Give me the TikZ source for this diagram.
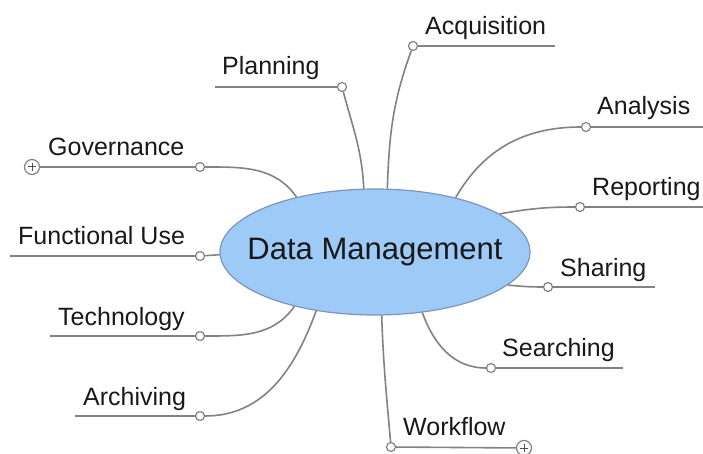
\documentclass[tikz,border=0pt]{standalone}
\usepackage{fontspec}
\setmainfont{Liberation Sans}
\usetikzlibrary{shapes.geometric, positioning}

\definecolor{hubfill}{RGB}{158,202,248}
\definecolor{hubline}{RGB}{125,150,180}
\definecolor{branchgray}{RGB}{130,130,130}
\definecolor{labelink}{RGB}{25,25,25}

\tikzset{
	hub/.style = {ellipse, draw = hubline, fill = hubfill, line width = 1.2pt, minimum width = 310pt, minimum height = 126pt, inner sep = 0pt},
	hubtext/.style = {text = labelink, font = \fontsize{31}{37}\selectfont, inner sep = 0pt},
	knob/.style = {circle, draw = branchgray, fill = white, line width = 1.2pt, minimum size = 9pt, inner sep = 0pt},
	plusknob/.style = {knob, minimum size = 15pt, path picture = {
		\draw [branchgray!60!black, line width = 1pt]
			([xshift = -4pt] path picture bounding box.center) -- ([xshift = 4pt] path picture bounding box.center)
			([yshift = -4pt] path picture bounding box.center) -- ([yshift = 4pt] path picture bounding box.center) ;
	}},
	branch/.style = {draw = branchgray, line width = 1.6pt},
	topic/.style = {text = labelink, font = \fontsize{25}{30}\selectfont, inner sep = 0pt, anchor = base west},
}

\begin{document}
\begin{tikzpicture}[x = 1pt, y = 1pt]
		\useasboundingbox (0, 0) rectangle (703, 453) ;
		% Hub
		\node [hub] (dm) at (375, 201) {} ;
		\node [hubtext] (dmtext) at (dm.center) {Data Management} ;
		% Knobs
		\node [knob] (gov) at (200, 286) {} ;
		\node [knob] (fun) at (200, 197) {} ;
		\node [knob] (tech) at (200, 117) {} ;
		\node [knob] (arch) at (200, 37) {} ;
		\node [knob] (plan) at (342, 366) {} ;
		\node [knob] (acq) at (413, 407) {} ;
		\node [knob] (ana) at (586, 326) {} ;
		\node [knob] (rep) at (580, 246) {} ;
		\node [knob] (sha) at (548, 166) {} ;
		\node [knob] (sea) at (491, 85) {} ;
		\node [knob] (wor) at (391, 6) {} ;
		% Far ends of the underlines
		\node [plusknob] (govplus) at (32, 286) {} ;
		\coordinate (funend) at (10, 197) ;
		\coordinate (techend) at (50, 117) ;
		\coordinate (archend) at (75, 37) ;
		\coordinate (planend) at (215, 366) ;
		\coordinate (acqend) at (555, 407) ;
		\coordinate (anaend) at (703, 326) ;
		\coordinate (repend) at (703, 246) ;
		\coordinate (shaend) at (655, 166) ;
		\coordinate (seaend) at (623, 85) ;
		\node [plusknob] (worplus) at (524, 5) {} ;
		\foreach \a/\b in {govplus/gov, funend/fun, techend/tech, archend/arch, planend/plan, acq/acqend, ana/anaend, rep/repend, sha/shaend, sea/seaend, wor/worplus}{
			\draw [branch] (\a) -- (\b) ;
		}
		% Labels
		\node [topic] (govtext) at ([shift = {(16, 11)}] govplus.center) {Governance} ;
		\node [topic] (funtext) at ([shift = {(8, 12)}] funend) {Functional Use} ;
		\node [topic] (techtext) at ([shift = {(8, 11)}] techend) {Technology} ;
		\node [topic] (archtext) at ([shift = {(8, 11)}] archend) {Archiving} ;
		\node [topic] (plantext) at ([shift = {(7, 12)}] planend) {Planning} ;
		\node [topic] (acqtext) at ([shift = {(12, 11)}] acq.center) {Acquisition} ;
		\node [topic] (anatext) at ([shift = {(11, 12)}] ana.center) {Analysis} ;
		\node [topic] (reptext) at ([shift = {(12, 12)}] rep.center) {Reporting} ;
		\node [topic] (shatext) at ([shift = {(12, 11)}] sha.center) {Sharing} ;
		\node [topic] (seatext) at ([shift = {(11, 12)}] sea.center) {Searching} ;
		\node [topic] (wortext) at ([shift = {(12, 12)}] wor.center) {Workflow} ;
		% Branches
		\draw [branch] (dm.145) to [out = 125, in = 0] (gov) ;
		\draw [branch] (dm.181.5) -- (fun) ;
		\draw [branch] (dm.214) to [out = 235, in = 0] (tech) ;
		\draw [branch] (dm.225) to [out = 250, in = 0] (arch) ;
		\draw [branch] (dm.100) to [out = 93, in = -75] (plan) ;
		\draw [branch] (dm.79) to [out = 88, in = -110] (acq) ;
		\draw [branch] (dm.34) to [out = 60, in = 180] (ana) ;
		\draw [branch] (dm.17) to [out = 10, in = 180] (rep) ;
		\draw [branch] (dm.346) to [out = -5, in = 180] (sha) ;
		\draw [branch] (dm.308) to [out = -70, in = 180] (sea) ;
		\draw [branch] (dm.276) to [out = -88, in = 95] (wor) ;
	\end{tikzpicture}
\end{document}
